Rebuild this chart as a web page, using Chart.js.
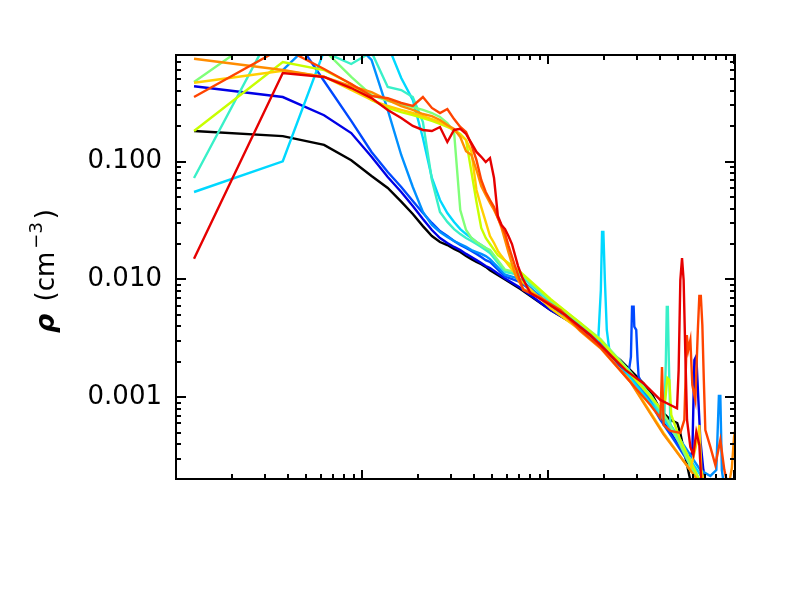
<!DOCTYPE html>
<html>
<head>
<meta charset="utf-8">
<script src="https://cdn.jsdelivr.net/npm/chart.js@4.4.1/dist/chart.umd.min.js"></script>
<style>
  html, body { margin: 0; padding: 0; background: #ffffff; }
  #wrap { width: 786px; height: 591px; }
</style>
</head>
<body>
<div id="wrap"><canvas id="c" width="786" height="591"></canvas></div>
<script>
// ---- data (x: radius bins, y: density in cm^-3) ----
const rBins = [1.25, 3.75, 6.25, 8.75, 11.25, 13.75, 16.25, 18.75, 21.25, 23.75,
               26.25, 28.75, 31.25, 33.75, 36.25, 38.75, 41.25, 43.75, 46.25, 48.75];

const yTickValues = [0.001, 0.01, 0.1];
const seriesNames = ['s0','s1','s2','s3','s4','s5','s6','s7','s8','s9','s10','s11'];
const seriesColors = ['#000000','#0000e6','#0048ff','#0090ff','#00d8ff','#38f0c8',
                      '#80ff78','#c8ff00','#ffd000','#ff8c00','#ff4400','#e60000'];

const s0Y = [0.182, 0.165, 0.139, 0.103, 0.0756, 0.0598, 0.0458, 0.0360, 0.0284, 0.0234,
             0.0208, 0.0196, 0.0182, 0.0171, 0.0158, 0.0149, 0.0141, 0.0135, 0.0128, 0.0120];
const s0Tail = [[58.75,0.0100],[71,0.0083],[103,0.0055],[149,0.0039],[191,0.00283],[245,0.00207],
                [325,0.00132],[364,0.00105],[402,0.00078],[455,0.000642],[495,0.000605],[514,0.000498],
                [540,0.000343],[582,0.000198],[620,0.00015]];

const s1Y = [0.437, 0.354, 0.248, 0.175, 0.110, 0.0741, 0.0553, 0.0421, 0.0326, 0.0263,
             0.0225, 0.0204, 0.0189, 0.0178, 0.0165, 0.0155, 0.0146, 0.0138, 0.0130, 0.0125];
const s1Tail = [[58.75,0.0102],[71,0.0085],[103,0.0055],[149,0.0039],[191,0.00283],[277,0.00146],
                [334,0.00105],[402,0.000667],[484,0.000434],[568,0.000305],[597,0.000343],[612,0.00207],
                [627,0.00224],[643,0.00095],[659,0.000434],[684,0.000241],[710,0.00018]];

const s2Y = [1.5, 1.6, 0.484, 0.222, 0.121, 0.0818, 0.061, 0.0464, 0.0367, 0.0302,
             0.0258, 0.0234, 0.0212, 0.0196, 0.0185, 0.0175, 0.0165, 0.0155, 0.0146, 0.0141];
const s2Tail = [[58.75,0.0106],[71,0.0095],[103,0.00596],[149,0.00403],[191,0.00295],[270,0.00155],
                [279,0.0022],[283,0.00588],[288.6,0.00588],[291,0.00398],[298,0.00373],[303,0.00207],
                [307,0.0015],[341,0.00101],[402,0.000642],[484,0.000417],[582,0.000266],[659,0.00018]];

const s3Y = [null, 0.600, 1.3, 1.1, 0.73, 0.275, 0.114, 0.061, 0.0374, 0.0290,
             0.0253, 0.0230, 0.0212, 0.0200, 0.0189, 0.0178, 0.0171, 0.0165, 0.0158, 0.0149];
const s3Tail = [[58.75,0.0110],[71,0.0101],[103,0.00607],[149,0.00403],[191,0.00295],[277,0.00152],
                [355,0.00095],[455,0.000582],[582,0.000324],[659,0.000241],[746,0.000215],[803,0.000241],
                [829,0.001025],[844,0.001025],[860,0.000241],[887,0.00017]];

const s4Y = [0.0553, 0.1008, 0.87, 1.3, 1.2, 0.98, 0.514, 0.334, 0.159, 0.0727,
             0.0473, 0.0367, 0.0308, 0.0268, 0.0243, 0.0225, 0.0208, 0.0196, 0.0185, 0.0175];
const s4Tail = [[58.75,0.0118],[71,0.0109],[103,0.00644],[149,0.00411],[186,0.00300],[192.3,0.00814],
                [195.2,0.0253],[198.4,0.0253],[202.1,0.0099],[207,0.00373],[213.6,0.00252],[277,0.00146],
                [355,0.000895],[455,0.000549],[582,0.000294],[701,0.00019]];

const s5Y = [0.0727, 1.9, 0.853, 0.675, 0.853, 0.431, 0.406, 0.354, 0.217, 0.0700,
             0.0374, 0.0308, 0.0268, 0.0243, 0.0225, 0.0212, 0.0200, 0.0189, 0.0178, 0.0168];
const s5Tail = [[58.75,0.0116],[71,0.0109],[103,0.0065],[149,0.00415],[191,0.0031],[277,0.00164],
                [355,0.00101],[422,0.000642],[430,0.00207],[435,0.00584],[440.6,0.00584],[446,0.00207],
                [455,0.000582],[514,0.000434],[597,0.000266],[659,0.00019]];

const s6Y = [0.475, 1.6, 0.888, 0.524, 0.368, 0.328, 0.309, 0.291, 0.275, 0.259,
             0.240, 0.213, 0.179, 0.0389, 0.0263, 0.0225, 0.0208, 0.0196, 0.0185, 0.0178];
const s6Tail = [[58.75,0.0121],[71,0.01135],[103,0.0067],[149,0.00428],[191,0.00313],[277,0.00164],
                [355,0.00105],[432,0.000667],[514,0.000394],[597,0.000241],[659,0.00018]];

const s7Y = [0.182, 0.702, 0.600, 0.457, 0.334, 0.286, 0.264, 0.249, 0.235, 0.222,
             0.209, 0.197, 0.186, 0.172, 0.153, 0.0818, 0.0455, 0.0274, 0.0225, 0.0200];
const s7Tail = [[53.75,0.0161],[71,0.01158],[103,0.00683],[149,0.00428],[191,0.00306],[277,0.00158],
                [402,0.000811],[427,0.00095],[438,0.00146],[449,0.0014],[460,0.000708],[514,0.000434],
                [597,0.000266],[659,0.000191]];

const s8Y = [0.468, 0.592, 0.526, 0.406, 0.334, 0.297, 0.275, 0.259, 0.244, 0.230,
             0.217, 0.201, 0.186, 0.1685, 0.153, 0.121, 0.0575, 0.0412, 0.0308, 0.0234];
const s8Tail = [[51.25,0.0204],[53.75,0.0175],[56.25,0.0158],[61.25,0.0133],[71,0.0099],[103,0.00573],
                [149,0.00373],[191,0.00267],[277,0.001375],[417,0.0005],[582,0.000241],[635,0.000434],
                [651,0.000582],[667,0.000241],[701,0.00017]];

const s9Y = [0.749, 0.600, 0.524, 0.439, 0.390, 0.334, 0.297, 0.275, 0.254, 0.244,
             0.226, 0.205, 0.190, 0.162, 0.123, 0.114, 0.0850, 0.0622, 0.0522, 0.0446];
const s9Tail = [[51.25,0.0389],[53.75,0.0333],[56.25,0.0274],[58.75,0.0216],[61.25,0.0171],[66.7,0.0109],
                [73.6,0.0083],[90.9,0.0071],[116.5,0.0054],[149,0.00365],[191,0.00262],[277,0.00135],
                [417,0.000488],[635,0.0002],[746,0.00015],[932,0.00017],[973,0.000251],[1000,0.00046],
                [1060,0.0008]];

const s10Y = [0.354, 0.93, 0.612, 0.457, 0.361, 0.347, 0.315, 0.297, 0.354, 0.286,
              0.259, 0.280, 0.230, 0.197, 0.179, 0.139, 0.103, 0.0700, 0.0553, 0.0473];
const s10Tail = [[51.25,0.0412],[53.75,0.0333],[56.25,0.0284],[58.75,0.0245],[61.25,0.0195],[66.7,0.01277],
                 [73.6,0.00815],[90.9,0.00697],[116.5,0.00551],[149,0.00373],[191,0.00267],[277,0.00135],
                 [355,0.00086],[402,0.000667],[410,0.00181],[418.2,0.000582],[455,0.000518],[514.4,0.000498],
                 [540.5,0.000642],[557.4,0.00338],[567.5,0.00252],[582.3,0.00306],[596.9,0.00127],[619.4,0.00095],
                 [638.9,0.00373],[650.8,0.00724],[663,0.00724],[675.5,0.00411],[688,0.0014],[701,0.000528],
                 [746,0.000379],[793.5,0.000266],[844,0.000434],[887,0.000241],[932,0.00017]];

const s11Y = [0.0150, 0.566, 0.524, 0.422, 0.347, 0.275, 0.235, 0.201, 0.186, 0.182,
              0.197, 0.147, 0.186, 0.190, 0.172, 0.144, 0.121, 0.110, 0.0994, 0.1075];
const s11Tail = [[51.25,0.0727],[53.75,0.0346],[56.25,0.0290],[58.75,0.0268],[61.25,0.0234],[64,0.0200],
                 [69,0.0130],[72.5,0.0105],[80.3,0.00768],[96.7,0.00644],[123.9,0.005],[168.8,0.00338],
                 [216.3,0.00229],[260.4,0.00171],[326.6,0.00131],[401.6,0.00095],[455,0.00086],[493.7,0.000807],
                 [503.7,0.0017],[514.4,0.0099],[525.3,0.0152],[535.8,0.0099],[547.2,0.00238],[558.8,0.000642],
                 [582.3,0.000379],[604.4,0.000324],[627,0.000507],[650.8,0.000394],[667.3,0.00019]];

const lowSets = [s0Y, s1Y, s2Y, s3Y, s4Y, s5Y, s6Y, s7Y, s8Y, s9Y, s10Y, s11Y];
const tailSets = [s0Tail, s1Tail, s2Tail, s3Tail, s4Tail, s5Tail, s6Tail, s7Tail, s8Tail, s9Tail, s10Tail, s11Tail];

// ---- build datasets ----
const datasets = seriesNames.map((name, i) => {
  const pts = [];
  lowSets[i].forEach((v, k) => { if (v !== null) pts.push({ x: rBins[k], y: v }); });
  tailSets[i].forEach(p => pts.push({ x: p[0], y: p[1] }));
  return {
    label: name,
    data: pts,
    borderColor: seriesColors[i],
    backgroundColor: seriesColors[i],
    borderWidth: 2.4,
    pointRadius: 0,
    tension: 0,
    fill: false,
    order: seriesNames.length - 1 - i
  };
});

// ---- frame, inward ticks and axis title ----
const framePlugin = {
  id: 'frame',
  afterDraw(chart) {
    const { ctx, chartArea } = chart;
    const { left, right, top, bottom } = chartArea;
    const xs = chart.scales.x, ys = chart.scales.y;
    ctx.save();
    ctx.strokeStyle = '#000';
    ctx.lineWidth = 2;
    ctx.lineCap = 'butt';
    ctx.strokeRect(left, top, right - left, bottom - top);
    ctx.beginPath();
    for (let d = -5; d <= 1; d++) {
      for (let m = 1; m <= 9; m++) {
        const v = m * Math.pow(10, d);
        if (v >= ys.min * 0.999 && v <= ys.max * 1.001) {
          const py = Math.round(ys.getPixelForValue(v));
          const len = m === 1 ? 10 : 5;
          ctx.moveTo(left, py); ctx.lineTo(left + len, py);
          ctx.moveTo(right, py); ctx.lineTo(right - len, py);
        }
      }
    }
    for (let d = 0; d <= 3; d++) {
      for (let m = 1; m <= 9; m++) {
        const v = m * Math.pow(10, d);
        if (v > xs.min * 1.001 && v < xs.max * 0.999) {
          const px = Math.round(xs.getPixelForValue(v));
          const len = m === 1 ? 9 : 5;
          ctx.moveTo(px, bottom); ctx.lineTo(px, bottom - len);
          ctx.moveTo(px, top); ctx.lineTo(px, top + len);
        }
      }
    }
    ctx.stroke();

    // y axis title: rho (cm^-3)
    ctx.translate(54, 271);
    ctx.rotate(-Math.PI / 2);
    ctx.fillStyle = '#000';
    ctx.textBaseline = 'alphabetic';
    ctx.textAlign = 'left';
    const parts = [
      { t: 'ρ', f: 'italic bold 27px "DejaVu Sans"', dy: 0 },
      { t: ' (cm', f: '26px "DejaVu Sans"', dy: 0 },
      { t: '−3', f: '18px "DejaVu Sans"', dy: -12 },
      { t: ')', f: '26px "DejaVu Sans"', dy: 0 }
    ];
    let total = 0;
    parts.forEach(p => { ctx.font = p.f; p.w = ctx.measureText(p.t).width; total += p.w; });
    total += 10;
    let cx = -total / 2;
    parts.forEach((p, i) => {
      ctx.font = p.f;
      ctx.fillText(p.t, cx, p.dy);
      cx += p.w + (i === 0 ? 4 : 3);
    });
    ctx.restore();
  }
};

Chart.defaults.font.family = '"DejaVu Sans", sans-serif';

new Chart(document.getElementById('c'), {
  type: 'line',
  data: { datasets },
  options: {
    responsive: false,
    animation: false,
    devicePixelRatio: 1,
    parsing: true,
    spanGaps: false,
    layout: { padding: { left: 0, top: 55, right: 51, bottom: 112 } },
    plugins: { legend: { display: false }, tooltip: { enabled: false }, title: { display: false } },
    scales: {
      x: {
        type: 'logarithmic',
        min: 1,
        max: 1012,
        ticks: { display: false },
        grid: { display: false, drawTicks: false },
        border: { display: false },
        afterFit(s) { s.height = 0; }
      },
      y: {
        type: 'logarithmic',
        min: 2.025e-4,
        max: 0.805,
        afterBuildTicks(s) { s.ticks = yTickValues.map(v => ({ value: v, major: true })); },
        ticks: {
          color: '#000',
          padding: 14,
          font: { size: 26, family: '"DejaVu Sans"' },
          callback: (v) => Number(v).toFixed(3)
        },
        grid: { display: false, drawTicks: false },
        border: { display: false },
        afterFit(s) { s.width = 176; }
      }
    }
  },
  plugins: [framePlugin]
});
</script>
</body>
</html>
